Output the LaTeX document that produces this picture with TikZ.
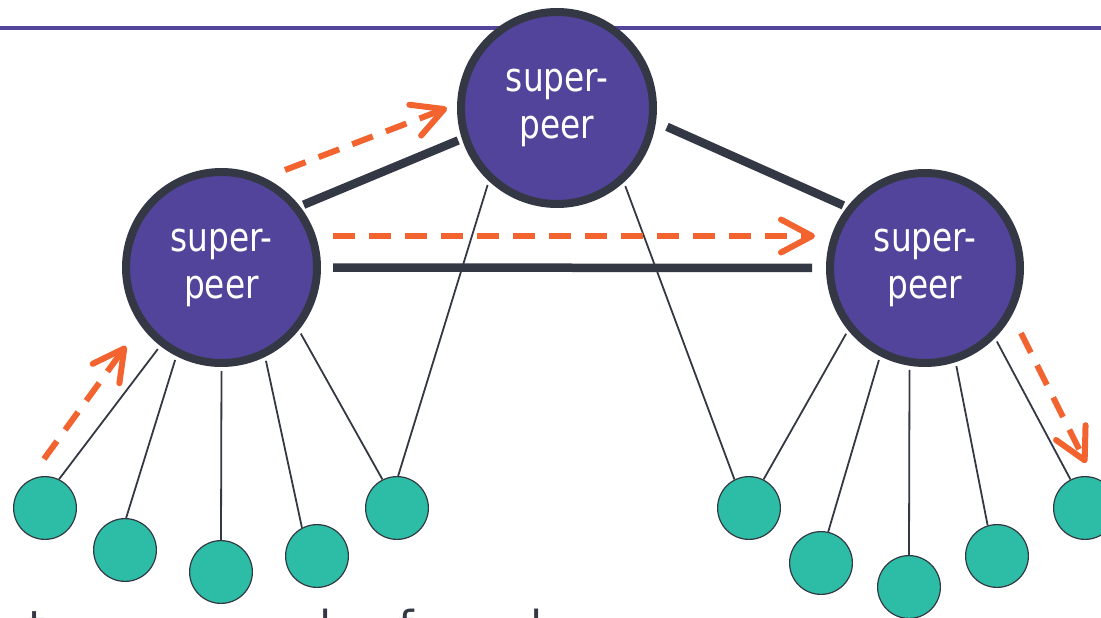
\documentclass[tikz,border=0pt]{standalone}
\usepackage{fontspec}
\setmainfont{DejaVu Sans}
\newfontfamily\peerfont[FakeStretch=0.82]{DejaVu Sans}
\usetikzlibrary{arrows.meta}
\definecolor{spfill}{HTML}{52449A}
\definecolor{edgedark}{HTML}{333844}
\definecolor{leaffill}{HTML}{2DBDA6}
\definecolor{msgorange}{HTML}{F26330}
\definecolor{rulepurple}{HTML}{52459A}
\begin{document}
\begin{tikzpicture}[x=1pt,y=-1pt,
  superpeer/.style={circle, draw=edgedark, line width=8pt, fill=spfill,
    minimum size=191pt, inner sep=0pt, text=white,
    font=\peerfont\fontsize{40}{47}\selectfont, align=center},
  leaf/.style={circle, draw=edgedark, line width=1.2pt, fill=leaffill,
    minimum size=62.8pt, inner sep=0pt},
  backbone/.style={draw=edgedark, line width=8.5pt},
  spoke/.style={draw=edgedark, line width=1.8pt, shorten <=4pt},
  msg/.style={draw=msgorange, line width=6pt, dash pattern=on 22pt off 14pt,
    -{Straight Barb[length=31pt,width=33pt,round]}},
  frag/.style={anchor=base west, inner sep=0pt, text=edgedark,
    font=\fontsize{44}{50}\selectfont},
]
\useasboundingbox (0,0) rectangle (1101,618);

% header rule
\draw[rulepurple, line width=4.5pt] (0,28) -- (1101,28);

% super-peers
\node[superpeer, minimum size=192pt] (ts) at (557,108) {super-\\peer};
\node[superpeer] (ls) at (221.5,267.5) {super-\\peer};
\node[superpeer, minimum size=190pt] (rs) at (925,268) {super-\\peer};

% ordinary peers
\node[leaf] (l1) at (45,508) {};
\node[leaf] (l2) at (125,550) {};
\node[leaf] (l3) at (221,572) {};
\node[leaf] (l4) at (317,556) {};
\node[leaf] (l5) at (397,508) {};
\node[leaf] (r1) at (749,508) {};
\node[leaf] (r2) at (821,563) {};
\node[leaf] (r3) at (909,587) {};
\node[leaf] (r4) at (997,556) {};
\node[leaf] (r5) at (1085,508) {};

% super-peer backbone
\path[backbone, shorten <=4pt, shorten >=4pt] (ls.38) -- (ts.198);
\path[backbone, shorten <=12pt, shorten >=4pt] (ts.352) -- (rs.142.5);
\path[backbone, shorten <=12pt, shorten >=14pt] (ls.0) -- (rs.180);

% peer attachments
\path[spoke] (ls.232) -- (l1.64);
\path[spoke] (ls.243) -- (l2.88);
\path[spoke] (ls.270) -- (l3.90);
\path[spoke] (ls.296) -- (l4.118);
\path[spoke] (ls.321) -- (l5.117);
\path[spoke] (ts.227) -- (l5.88);
\path[spoke] (ts.312) -- (r1.117);
\path[spoke] (rs.219) -- (r1.63);
\path[spoke] (rs.243) -- (r2.77);
\path[spoke] (rs.261) -- (r3.90);
\path[spoke] (rs.288) -- (r4.107);
\path[spoke] (rs.315) -- (r5.117);

% query forwarding
\coordinate (m1s) at (285,170);  \coordinate (m1e) at (447,108);
\coordinate (m2s) at (333,236);  \coordinate (m2e) at (815,236);
\coordinate (m3s) at (44,459);   \coordinate (m3e) at (126,346);
\coordinate (m4s) at (1021,333); \coordinate (m4e) at (1086,463);
\path[msg] (m3s) -- (m3e);
\path[msg] (m1s) -- (m1e);
\path[msg] (m2s) -- (m2e);
\path[msg] (m4s) -- (m4e);

% text line running off the lower edge
\begin{scope}
  \clip (0,0) rectangle (1101,618);
  \node[frag] (f1) at (28,642) {t};
  \node[frag] (f2) at (319,642) {l};
  \node[frag] (f3) at (398,642) {f};
  \node[frag] (f4) at (530,642) {l};
\end{scope}
\end{tikzpicture}
\end{document}
